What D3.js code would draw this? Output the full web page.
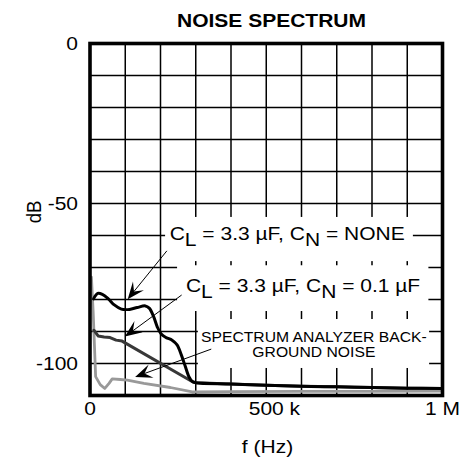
<!DOCTYPE html>
<html><head><meta charset="utf-8">
<script src="https://cdn.jsdelivr.net/npm/d3@7"></script>
<style>html,body{margin:0;padding:0;background:#fff;}svg{display:block;}</style>
</head><body>
<script>
// ---------- data (frequency in kHz, level in dB) ----------
const freqNone = [10, 22, 35, 52, 69, 89, 112, 134, 157, 168, 180, 191, 202, 216, 233, 247, 259, 270, 281, 290, 300, 400, 500, 600, 700, 800, 900, 1000];
const dbNone   = [-79.8, -78.1, -78.4, -79.8, -81.7, -83.0, -83.1, -82.5, -82.0, -82.7, -85.2, -88.6, -90.8, -91.9, -92.7, -94.2, -97.3, -100.8, -104.2, -105.6, -106.0, -106.4, -106.8, -107.1, -107.3, -107.5, -107.7, -107.8];
const freqCn   = [11, 23, 40, 57, 74, 91, 292, 300, 400, 500, 600, 700, 800, 900, 1000];
const dbCn     = [-89.6, -91.4, -91.7, -91.9, -92.7, -93.0, -105.8, -106.0, -106.4, -106.8, -107.1, -107.3, -107.5, -107.7, -107.8];
const freqBg   = [4, 9, 16, 29, 42, 54, 63, 86, 106, 153, 228, 290, 400, 600, 800, 1000];
const dbBg     = [-73, -84, -104.1, -106.6, -107.8, -106.2, -104.8, -105.0, -105.2, -106.2, -107.5, -108.9, -108.8, -108.7, -108.7, -108.6];

const xTickValues = [0, 500, 1000];
const xTickLabels = ["0", "500 k", "1 M"];
const yTickValues = [0, -50, -100];
const yTickLabels = ["0", "-50", "-100"];
const xGridValues = [100, 200, 300, 400, 500, 600, 700, 800, 900];
const yGridValues = [-10, -20, -30, -40, -50, -60, -70, -80, -90, -100];

const titleText = "NOISE SPECTRUM";
const xTitle = "f (Hz)";
const yTitle = "dB";

// ---------- layout ----------
const W = 462, H = 463;
const L = 90, R = 442.5, T = 43.5, B = 395.5;
const SX = 1.13;            // horizontal stretch of the reference lettering
const FONT = "'Liberation Sans', Arial, Helvetica, sans-serif";

const x = d3.scaleLinear().domain([0, 1000]).range([L, R]);
const y = d3.scaleLinear().domain([0, -110]).range([T, B]);

const svg = d3.select("body").append("svg").attr("width", W).attr("height", H)
  .style("font-family", FONT);

function stext(g, px, py, str, size, anchor, weight) {
  return g.append("text")
    .attr("transform", `translate(${px},${py}) scale(${SX},1)`)
    .attr("text-anchor", anchor || "start")
    .attr("font-size", size)
    .attr("font-weight", weight || "normal")
    .attr("fill", "#000")
    .text(str);
}

// title
stext(svg, 271.5, 26.5, titleText, 18.6, "middle", "bold");

// grid
const grid = svg.append("g").attr("stroke", "#000").attr("stroke-width", 1.5);
grid.selectAll("line.v").data(xGridValues).join("line").attr("class", "v")
  .attr("x1", d => x(d)).attr("x2", d => x(d)).attr("y1", T).attr("y2", B);
grid.selectAll("line.h").data(yGridValues).join("line").attr("class", "h")
  .attr("y1", d => y(d)).attr("y2", d => y(d)).attr("x1", L).attr("x2", R);

// white knock-out boxes behind the annotation texts (in data units)
const boxes = [
  {f0: 213, f1: 916, d0: -54.2, d1: -68.0},
  {f0: 247, f1: 960, d0: -69.3, d1: -83.6},
  {f0: 306, f1: 962, d0: -86.1, d1: -101.4}
];
svg.append("g").selectAll("rect").data(boxes).join("rect")
  .attr("x", d => x(d.f0)).attr("width", d => x(d.f1) - x(d.f0))
  .attr("y", d => y(d.d0)).attr("height", d => y(d.d1) - y(d.d0))
  .attr("fill", "#fff");

// curves
const line = d3.line().x(d => x(d[0])).y(d => y(d[1]));
const smooth = d3.line().x(d => x(d[0])).y(d => y(d[1])).curve(d3.curveCatmullRom.alpha(0.5));
const zip = (a, b) => a.map((v, i) => [v, b[i]]);
const curves = svg.append("g").attr("fill", "none").attr("stroke-linejoin", "round").attr("stroke-linecap", "round");
curves.append("path").attr("d", line(zip(freqBg, dbBg))).attr("stroke", "#999").attr("stroke-width", 2.8);
curves.append("path").attr("d", line(zip(freqCn, dbCn))).attr("stroke", "#383838").attr("stroke-width", 3);
curves.append("path").attr("d", smooth(zip(freqNone, dbNone))).attr("stroke", "#000").attr("stroke-width", 3);

// frame
svg.append("rect").attr("x", L).attr("y", T).attr("width", R - L).attr("height", B - T)
  .attr("fill", "none").attr("stroke", "#000").attr("stroke-width", 3.6);

// arrows (data units: from label to tip)
const arrows = [
  {f0: 218, d0: -64.8, f1: 107, d1: -79.9},
  {f0: 260, d0: -78.6, f1: 99, d1: -91.6},
  {f0: 344, d0: -95.5, f1: 128, d1: -104.2}
];
const ag = svg.append("g");
arrows.forEach(a => {
  const x0 = x(a.f0), y0 = y(a.d0), x1 = x(a.f1), y1 = y(a.d1);
  const ang = Math.atan2(y1 - y0, x1 - x0);
  const Lh = 17, Wh = 7, N = 10;
  const c = Math.cos(ang), s = Math.sin(ang);
  const pt = (u, v) => [x1 + u * c - v * s, y1 + u * s + v * c];
  ag.append("line").attr("x1", x0).attr("y1", y0)
    .attr("x2", pt(-N, 0)[0]).attr("y2", pt(-N, 0)[1])
    .attr("stroke", "#000").attr("stroke-width", 1);
  const poly = [pt(0, 0), pt(-Lh, -Wh), pt(-N, 0), pt(-Lh, Wh)];
  ag.append("path").attr("d", "M" + poly.map(p => p.join(",")).join("L") + "Z").attr("fill", "#000");
});

// annotation texts
function capLabel(px, py, cn) {
  const t = svg.append("text")
    .attr("transform", `translate(${px},${py}) scale(${SX},1)`)
    .attr("font-size", 18.6).attr("fill", "#000");
  t.append("tspan").text("C");
  t.append("tspan").attr("dy", 6).text("L");
  t.append("tspan").attr("dy", -6).text(" = 3.3 µF, C");
  t.append("tspan").attr("dy", 6).text("N");
  t.append("tspan").attr("dy", -6).text(" = " + cn);
}
capLabel(x(226), y(-61.5), "NONE");
capLabel(x(272), y(-77.8), "0.1 µF");
stext(svg, x(635), y(-93.3), "SPECTRUM ANALYZER BACK-", 13.9, "middle");
stext(svg, x(635), y(-97.9), "GROUND NOISE", 13.9, "middle");

// y tick labels
yTickValues.forEach((v, i) => stext(svg, 78, y(v) + 6.5, yTickLabels[i], 18.6, "end"));

// x tick labels: ends centred, interior ticks centre their number
xTickValues.forEach((v, i) => {
  const lab = xTickLabels[i];
  if (i === 0 || i === xTickValues.length - 1) {
    stext(svg, x(v), 415, lab, 18.6, "middle");
  } else {
    const t = stext(svg, x(v), 415, lab, 18.6, "start");
    const num = lab.split(" ")[0];
    const tmp = stext(svg, 0, 0, num, 18.6, "start");
    const wNum = tmp.node().getComputedTextLength();
    tmp.remove();
    t.attr("transform", `translate(${x(v) - wNum * SX / 2},415) scale(${SX},1)`);
  }
});

// axis titles
stext(svg, 267.5, 453, xTitle, 18.6, "middle");
svg.append("text")
  .attr("transform", `translate(41,212) scale(${SX},1) rotate(-90)`)
  .attr("text-anchor", "middle").attr("font-size", 18.6).attr("fill", "#000")
  .text(yTitle);
</script>
</body></html>
